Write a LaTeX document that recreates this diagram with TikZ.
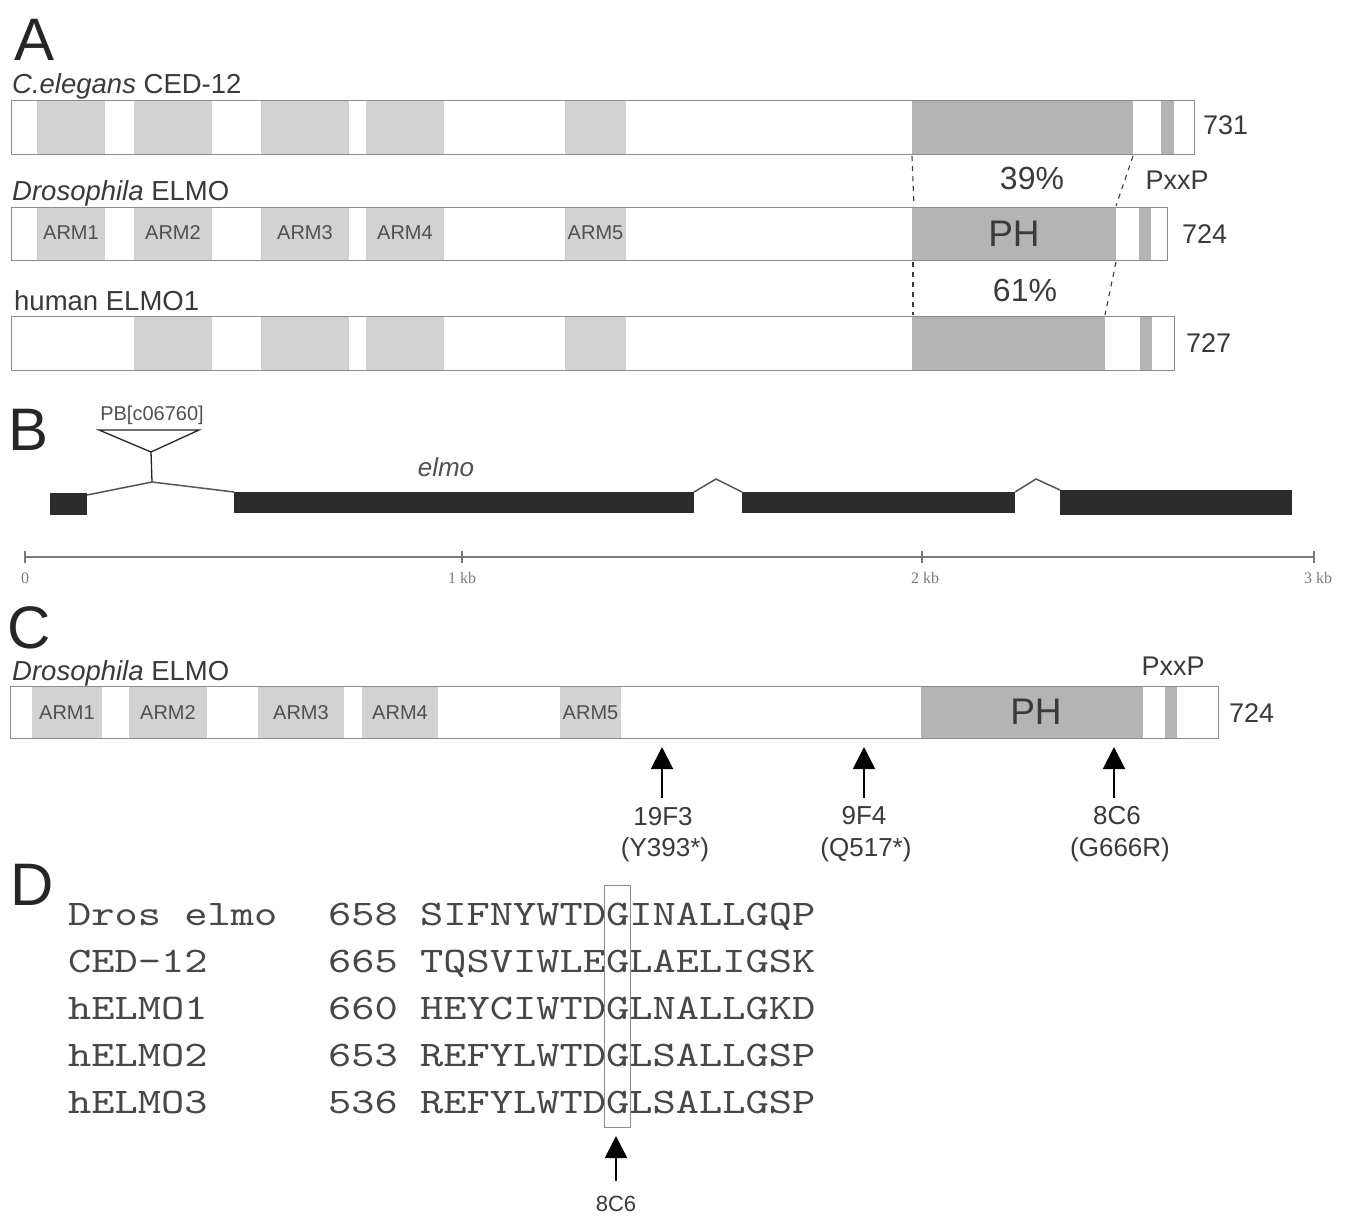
\documentclass[tikz,border=0pt]{standalone}
\usepackage{fontspec}
\setmainfont{Liberation Sans}
\newfontfamily\serifF{Liberation Serif}
\newfontfamily\seqF[FakeStretch=1.23]{lmmono10-regular.otf}
\usetikzlibrary{arrows.meta}
\definecolor{txt}{HTML}{3A3A3A}
\definecolor{armtxt}{HTML}{505050}
\definecolor{armgray}{HTML}{D2D2D2}
\definecolor{phgray}{HTML}{B4B4B4}
\definecolor{outline}{HTML}{8C8C8C}
\definecolor{exon}{HTML}{2B2B2B}
\definecolor{intron}{HTML}{555555}
\definecolor{scalec}{HTML}{7A7A7A}
\newcommand\fsz[1]{\fontsize{#1}{#1}\selectfont}
\begin{document}
\begin{tikzpicture}[x=1pt,y=-1pt,
  lab/.style={inner sep=0pt, text=txt},
  bigL/.style={lab, font=\fsz{60}, text=black!85, anchor=base west},
  ttl/.style={lab, font=\fsz{27.5}, anchor=base west},
  num/.style={lab, font=\fsz{27}, anchor=west},
  pct/.style={lab, font=\fsz{32}},
  phlab/.style={lab, font=\fsz{37}},
  armlab/.style={lab, font=\fsz{20}, text=armtxt},
  barframe/.style={draw=outline, line width=1.4pt, inner sep=0pt, anchor=north west},
  armbox/.style={fill=armgray},
  phbox/.style={fill=phgray},
  simline/.style={dash pattern=on 5pt off 5pt, draw=txt, line width=1.1pt},
  mut/.style={-{Triangle[length=22pt,width=22pt]}, line width=2pt, draw=black},
  mutlab/.style={lab, font=\fsz{26}},
  seqtxt/.style={lab, font=\seqF\fsz{36}, text=black!72, anchor=base west},
  scalelab/.style={lab, font=\serifF\fsz{16}, text=scalec},
  exonbox/.style={fill=exon},
  intronl/.style={draw=intron, line width=1.5pt},
]
\useasboundingbox[fill=white] (0,0) rectangle (1353,1216);

% ================= Panel A =================
\node[bigL] (A) at (14,60) {A};
\node[ttl] (t1) at (12,93) {\textit{C.elegans} CED-12};
\node[ttl] (t2) at (12,200) {\textit{Drosophila} ELMO};
\node[ttl] (t3) at (14,310) {human ELMO1};

% row 1 boxes
\foreach \a/\b in {37/105,134/212,261/349,366/444,565/626}
  \fill[armbox] (\a,100) rectangle (\b,154);
\fill[phbox] (912,100) rectangle (1133,154);
\fill[phbox] (1161,100) rectangle (1174,154);
\node[barframe, minimum width=1183pt, minimum height=54pt] (bar1) at (11,100) {};
\node[num] (n731) at (1203,125) {731};

% row 2 boxes
\foreach \a/\b/\l in {37/105/ARM1,134/212/ARM2,261/349/ARM3,366/444/ARM4,565/626/ARM5}{
  \fill[armbox] (\a,207) rectangle (\b,260);
  \node[armlab] (a2\l) at ({(\a+\b)/2},233) {\l};
}
\fill[phbox] (912,207) rectangle (1116,260);
\fill[phbox] (1139,207) rectangle (1151,260);
\node[barframe, minimum width=1156pt, minimum height=53pt] (bar2) at (11,207) {};
\node[phlab] (ph2) at (1014,234) {PH};
\node[num] (n724a) at (1182,234) {724};

% row 3 boxes
\foreach \a/\b in {134/212,261/349,366/444,565/626}
  \fill[armbox] (\a,316) rectangle (\b,370);
\fill[phbox] (912,316) rectangle (1105,370);
\fill[phbox] (1140,316) rectangle (1152,370);
\node[barframe, minimum width=1163pt, minimum height=54pt] (bar3) at (11,316) {};
\node[num] (n727) at (1186,343) {727};

% similarity dashed lines
\coordinate (s1a) at (912,156); \coordinate (s1b) at (914,206);
\coordinate (s2a) at (1133,156); \coordinate (s2b) at (1116,206);
\coordinate (s3a) at (913,262); \coordinate (s3b) at (913,315);
\coordinate (s4a) at (1116,262); \coordinate (s4b) at (1105,315);
\draw[simline] (s1a) -- (s1b);
\draw[simline] (s2a) -- (s2b);
\draw[simline] (s3a) -- (s3b);
\draw[simline] (s4a) -- (s4b);
\node[pct] (p39) at (1032,178) {39\%};
\node[pct] (p61) at (1025,290) {61\%};
\node[lab, font=\fsz{27}] (pxxp1) at (1177,180) {PxxP};

% ================= Panel B =================
\node[bigL] (B) at (8,450) {B};
\node[lab, font=\fsz{20}, text=armtxt] (pb) at (152,415) {PB[c06760]};
\coordinate (tri1) at (99,430); \coordinate (tri2) at (199,430); \coordinate (tri3) at (151,452);
\draw[black!85, line width=1.3pt] (tri1) -- (tri2) -- (tri3) -- cycle;
\coordinate (ins) at (152,482);
\draw[black!85, line width=1.3pt] (tri3) -- (ins);
\fill[exonbox] (50,493) rectangle (87,515);
\fill[exonbox] (234,492) rectangle (694,513);
\fill[exonbox] (742,492) rectangle (1015,513);
\fill[exonbox] (1060,490) rectangle (1292,515);
\coordinate (e1r) at (87,495); \coordinate (e2l) at (234,492);
\coordinate (e2r) at (694,492); \coordinate (h1) at (716,479); \coordinate (e3l) at (742,492);
\coordinate (e3r) at (1015,492); \coordinate (h2) at (1036,479); \coordinate (e4l) at (1060,490);
\draw[intronl] (e1r) -- (ins) -- (e2l);
\draw[intronl] (e2r) -- (h1) -- (e3l);
\draw[intronl] (e3r) -- (h2) -- (e4l);
\node[lab, font=\itshape\fsz{26}, text=armtxt] (elmo) at (446,467) {elmo};

% scale
\coordinate (sc0) at (25,557); \coordinate (sc3) at (1314,557);
\draw[scalec, line width=1.2pt] (sc0) -- (sc3);
\foreach \x in {25,462,922,1314}{
  \draw[scalec, line width=1.2pt] (\x,551) -- (\x,563);
}
\node[scalelab] (l0) at (25,578) {0};
\node[scalelab] (l1) at (462,578) {1 kb};
\node[scalelab] (l2) at (925,578) {2 kb};
\node[scalelab] (l3) at (1318,578) {3 kb};

% ================= Panel C =================
\node[bigL] (C) at (7,648) {C};
\node[ttl] (t4) at (12,680) {\textit{Drosophila} ELMO};
\foreach \a/\b/\l in {32/102/ARM1,129/207/ARM2,258/344/ARM3,362/438/ARM4,560/621/ARM5}{
  \fill[armbox] (\a,686) rectangle (\b,738);
  \node[armlab] (c\l) at ({(\a+\b)/2},713) {\l};
}
\fill[phbox] (921,686) rectangle (1143,738);
\fill[phbox] (1165,686) rectangle (1177,738);
\node[barframe, minimum width=1208pt, minimum height=52pt] (barC) at (10,686) {};
\node[phlab] (phC) at (1036,712) {PH};
\node[lab, font=\fsz{27}] (pxxp2) at (1173,666) {PxxP};
\node[num] (n724b) at (1229,713) {724};

\foreach \x/\n in {662/m1,864/m2,1114/m3}{
  \coordinate (\n tail) at (\x,798);
  \coordinate (\n tip) at (\x,747);
  \draw[mut] (\n tail) -- (\n tip);
}
\node[mutlab] (m1a) at (663,817) {19F3};
\node[mutlab] (m1b) at (665,850) {(Y393*)};
\node[mutlab] (m2a) at (864,816) {9F4};
\node[mutlab] (m2b) at (866,850) {(Q517*)};
\node[mutlab] (m3a) at (1117,816) {8C6};
\node[mutlab] (m3b) at (1120,850) {(G666R)};

% ================= Panel D =================
\node[bigL] (D) at (10,905) {D};
\foreach \i/\nm/\nb/\sq in {1/Dros elmo/658/SIFNYWTDGINALLGQP,
                            2/CED-12/665/TQSVIWLEGLAELIGSK,
                            3/hELMO1/660/HEYCIWTDGLNALLGKD,
                            4/hELMO2/653/REFYLWTDGLSALLGSP,
                            5/hELMO3/536/REFYLWTDGLSALLGSP}{
  \node[seqtxt] (name\i) at (68,{925+47.2*(\i-1)}) {\nm};
  \node[seqtxt] (pos\i) at (328,{925+47.2*(\i-1)}) {\nb};
  \node[seqtxt] (seq\i) at (420,{925+47.2*(\i-1)}) {\sq};
}
\node[draw=outline, line width=1.2pt, inner sep=0pt, minimum width=26pt, minimum height=242pt, anchor=north west] (gbox) at (604,885) {};
\coordinate (dtail) at (616,1181);
\coordinate (dtip) at (616,1136);
\draw[mut] (dtail) -- (dtip);
\node[lab, font=\fsz{22}] (d8c6) at (616,1204) {8C6};
\end{tikzpicture}
\end{document}
